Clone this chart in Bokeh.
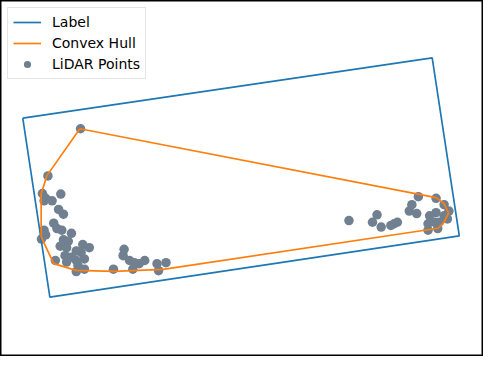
from bokeh.plotting import figure
from bokeh.models import Range1d, Legend, LegendItem
from bokeh.embed import file_html
from bokeh.resources import INLINE

# Label box (rotated rectangle) corners
label_x = [23, 446, 474, 51]
label_y = [123, 60, 246, 310]

# Convex hull vertices
hull_x = [82, 48, 42, 42, 55, 78, 117, 168, 452, 458, 463, 458, 450]
hull_y = [134, 183, 202, 247, 275, 282, 283, 281, 238, 232, 222, 212, 206]

# LiDAR points
lidar_x = [82.7, 49, 43.3, 46.7, 53.3, 62.3, 45, 60, 65, 55, 58.3, 63.3, 45, 46.7, 42.3,
           73.3, 65, 70, 61.7, 68.3, 85, 91.7, 78.3, 83.3, 66.7, 73.3, 86.7, 78.3, 56.7,
           68.3, 80, 86.7, 78.3, 116.7, 127.7, 126.7, 133.3, 138.3, 136.7, 143.3, 149,
           161.7, 163.3, 171,
           360, 389, 384.3, 393.3, 403.3, 410, 406.7, 425, 422.3, 430, 431.7, 450, 458.3,
           463.3, 450, 443.3, 458.3, 461.7, 441.7, 448.3, 441.7, 451.7, 453.3]
lidar_y = [134, 183.3, 201.7, 206.7, 209.3, 202.3, 209.3, 218.3, 223.3, 232.7, 238.3, 240,
           240, 245, 249.3, 243.3, 250, 251.7, 256.7, 258.3, 255, 258.3, 261.7, 263.3, 266.7,
           268.3, 270, 271.7, 271.7, 273.3, 276.7, 280.7, 283.3, 280.7, 260, 266.7, 271.7,
           274, 280.7, 275, 271.7, 275, 282.3, 274,
           230, 224, 231.7, 236.7, 235, 231.7, 233.3, 213.3, 220, 222.7, 205, 206.7, 213.3,
           220, 221.7, 225, 225, 228.3, 233.3, 231.7, 240, 238.3, 231.7]

p = figure(width=483, height=356, output_backend="svg", toolbar_location=None,
           x_range=Range1d(0, 499), y_range=Range1d(372, 0),
           min_border=0, min_border_left=0, min_border_right=0,
           min_border_top=0, min_border_bottom=0)
p.axis.visible = False
p.grid.visible = False
p.outline_line_color = "black"
p.outline_line_width = 2
p.background_fill_color = "white"

pts = p.scatter(lidar_x, lidar_y, size=9.5, color="#708090", line_color=None)
lab = p.line(label_x + label_x[:1], label_y + label_y[:1], line_color="#1f77b4", line_width=1.7)
hul = p.line(hull_x + hull_x[:1], hull_y + hull_y[:1], line_color="#ff7f0e", line_width=1.7)

legend = Legend(items=[
    LegendItem(label="Label", renderers=[lab]),
    LegendItem(label="Convex Hull", renderers=[hul]),
    LegendItem(label="LiDAR Points", renderers=[pts]),
], location="top_left")
legend.margin = 7
legend.padding = 5
legend.spacing = 3
legend.glyph_width = 28
legend.glyph_height = 18
legend.label_standoff = 11
legend.label_text_font = "DejaVu Sans"
legend.label_text_font_size = "14px"
legend.label_text_color = "black"
legend.border_line_color = "#cccccc"
legend.border_line_width = 1
legend.background_fill_alpha = 0.8
p.add_layout(legend)

open("out.html", "w").write(file_html(p, INLINE))
